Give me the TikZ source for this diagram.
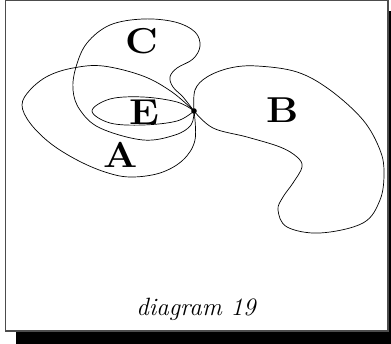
\documentclass[tikz,border=0pt]{standalone}
\usepackage{fontspec}
\usepackage{tikz}
\usetikzlibrary{positioning}

\newcommand{\widelbl}[1]{\scalebox{1.12}[1]{#1}}

\begin{document}
\begin{tikzpicture}[x=1pt, y=-1pt,
  blob/.style={line width=0.7pt, smooth, tension=0.6},
  setlbl/.style={font=\fontsize{36}{40}\selectfont\bfseries, inner sep=0pt},
  footer/.style={font=\fontsize{25}{30}\selectfont\itshape, inner sep=0pt, anchor=base}
]
\useasboundingbox (0,0) rectangle (391,344);
% frame and its shadow
\fill[black] (16,11) rectangle (391,344);
\draw[fill=white, draw=black!70, line width=1.2pt] (5.5,0.8) rectangle (388,331);

\coordinate (P) at (194,111);

% region A
\draw[blob] plot coordinates {(P) (172,92) (143,76) (103,66) (73,68) (48,76) (30,90)
  (22,105) (30,123) (50,143) (77,160) (105,172) (130,177) (160,173) (183,160) (195,140) (P)};
% region C
\draw[blob] plot coordinates {(P) (183,97) (173,87) (170,77) (177,68) (193,59) (200,46)
  (195,32) (175,22) (143,19) (110,25) (87,43) (76,67) (73,90) (80,110) (100,128)
  (143,140) (175,135) (191,125) (P)};
% region E
\draw[blob] plot coordinates {(P) (177,102) (143,97) (110,99) (92,111) (110,123)
  (143,125) (177,121) (P)};
% region B
\draw[blob] plot coordinates {(P) (195,90) (207,77) (230,68) (257,66) (297,72) (330,90)
  (363,120) (380,150) (384,173) (380,200) (363,223) (320,233) (287,227) (278,210)
  (283,197) (293,183) (302,167) (297,157) (280,147) (247,137) (213,128) (P)};

\fill (P) circle (2.8);

\node[setlbl] (lblC) at (142,41) {\widelbl{C}};
\node[setlbl] (lblE) at (144,112) {\widelbl{E}};
\node[setlbl] (lblA) at (121,155) {\widelbl{A}};
\node[setlbl] (lblB) at (283,110) {\widelbl{B}};

\node[footer] (title) at (196,316) {diagram 19};
\end{tikzpicture}
\end{document}
